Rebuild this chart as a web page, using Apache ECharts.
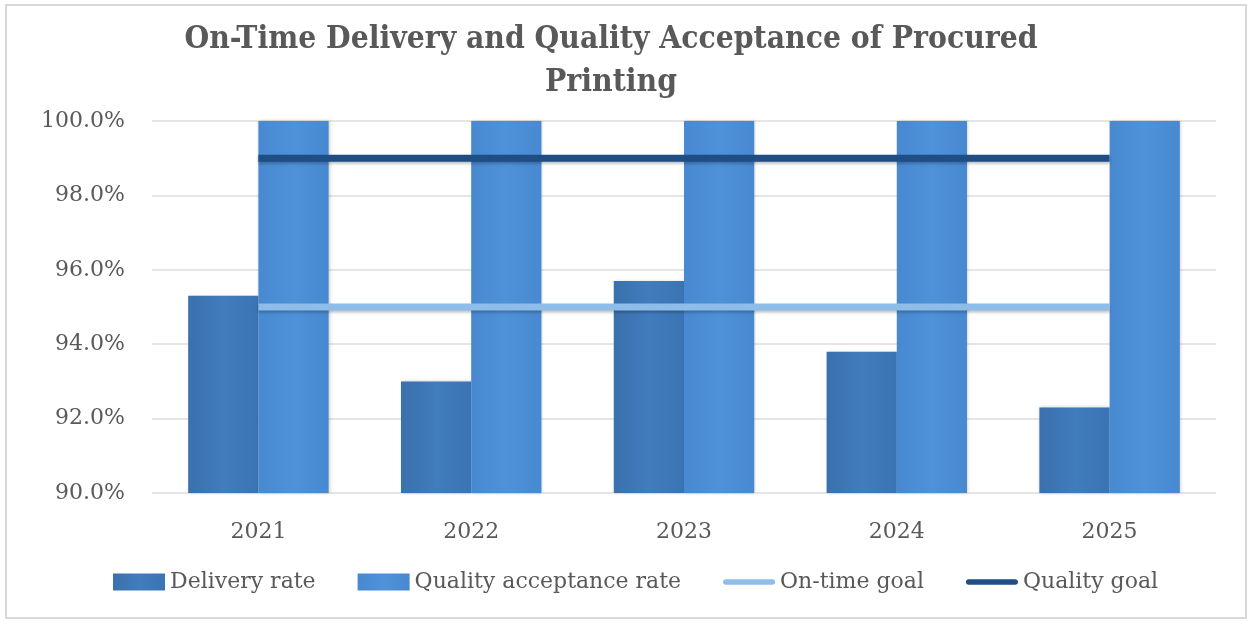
<!DOCTYPE html>
<html>
<head>
<meta charset="utf-8">
<script src="https://cdn.jsdelivr.net/npm/echarts@6/dist/echarts.min.js"></script>
<style>
  html, body { margin: 0; padding: 0; background: #fff; }
  #chart { width: 1253px; height: 621px; }
  .frame { position: absolute; left: 5px; top: 4px; width: 1238px; height: 611px; border: 2px solid #d9d9d9; pointer-events: none; }
</style>
</head>
<body>
<div id="chart"></div>
<div class="frame"></div>
<script>
const years = ['2021', '2022', '2023', '2024', '2025']
const deliveryRate = [95.3, 93.0, 95.7, 93.8, 92.3]
const qualityRate = [100, 100, 100, 100, 100]
const onTimeGoal = [95, 95, 95, 95, 95]
const qualityGoal = [99, 99, 99, 99, 99]

const serif = 'DejaVu Serif'
const grey = '#595959'
// wide rounded bar used as legend icon for the goal lines
const lineIcon = 'path://M3.5,0 H61.5 A3.5,3.5 0 0 1 61.5,7 H3.5 A3.5,3.5 0 0 1 3.5,0 Z'

const chart = echarts.init(document.getElementById('chart'))

const lineShadow = { shadowColor: 'rgba(0,0,0,0.25)', shadowBlur: 3, shadowOffsetY: 2 }

chart.setOption({
  animation: false,
  title: {
    text: 'On-Time Delivery and Quality Acceptance of Procured\nPrinting',
    left: 606,
    top: 13,
    textAlign: 'center',
    textStyle: {
      fontFamily: 'DejaVu Serif Condensed',
      fontWeight: 'bold',
      fontSize: 31.5,
      lineHeight: 43,
      color: grey
    }
  },
  grid: { left: 152, right: 37, top: 121, bottom: 128, containLabel: false },
  legend: {
    bottom: 23,
    left: 108,
    itemWidth: 52,
    itemHeight: 17,
    itemGap: 42,
    symbolKeepAspect: true,
    textStyle: { fontFamily: serif, fontSize: 22, color: grey },
    data: [
      { name: 'Delivery rate', icon: 'rect' },
      { name: 'Quality acceptance rate', icon: 'rect' },
      { name: 'On-time goal', icon: lineIcon },
      { name: 'Quality goal', icon: lineIcon }
    ]
  },
  xAxis: {
    type: 'category',
    data: years,
    axisLine: { show: false },
    axisTick: { show: false },
    axisLabel: { fontFamily: serif, fontSize: 22, color: grey, margin: 28 }
  },
  yAxis: {
    type: 'value',
    min: 90,
    max: 100,
    interval: 2,
    axisLine: { show: false },
    axisTick: { show: false },
    splitLine: { lineStyle: { color: '#dcdcdc', width: 1.5 } },
    axisLabel: {
      fontFamily: serif, fontSize: 22, color: grey, margin: 27,
      formatter: (v) => v.toFixed(1) + '%'
    }
  },
  series: [
    {
      name: 'Delivery rate',
      type: 'bar',
      barGap: '0%',
      barCategoryGap: '34%',
      itemStyle: {
        color: new echarts.graphic.LinearGradient(0, 0, 1, 0, [
          { offset: 0, color: '#3a70ad' },
          { offset: 0.5, color: '#417cbd' },
          { offset: 1, color: '#3b74b3' }
        ]),
        shadowColor: 'rgba(0,0,0,0.2)', shadowBlur: 3, shadowOffsetX: 1
      },
      data: deliveryRate
    },
    {
      name: 'Quality acceptance rate',
      type: 'bar',
      itemStyle: {
        color: new echarts.graphic.LinearGradient(0, 0, 1, 0, [
          { offset: 0, color: '#4889d0' },
          { offset: 0.5, color: '#4e92da' },
          { offset: 1, color: '#4889d0' }
        ]),
        shadowColor: 'rgba(0,0,0,0.2)', shadowBlur: 3, shadowOffsetX: 1
      },
      data: qualityRate
    },
    {
      name: 'On-time goal',
      type: 'line',
      symbol: 'none',
      lineStyle: Object.assign({ color: '#8fbde9', width: 7, cap: 'butt' }, lineShadow),
      itemStyle: { color: '#8fbde9' },
      data: onTimeGoal
    },
    {
      name: 'Quality goal',
      type: 'line',
      symbol: 'none',
      lineStyle: Object.assign({ color: '#1f4e85', width: 7, cap: 'butt' }, lineShadow),
      itemStyle: { color: '#1f4e85' },
      data: qualityGoal
    }
  ]
})
</script>
</body>
</html>
